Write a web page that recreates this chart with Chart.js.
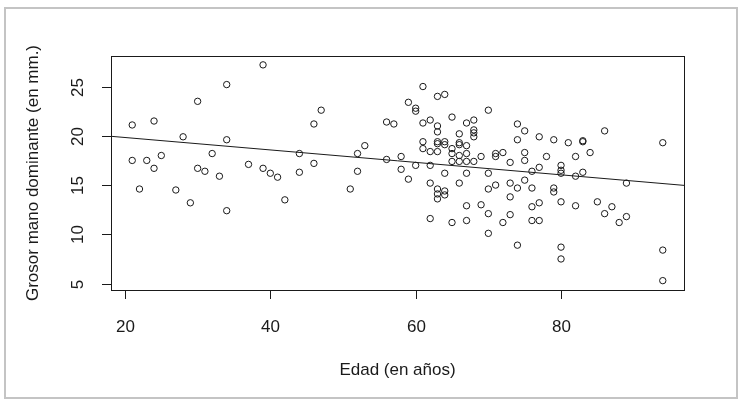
<!DOCTYPE html>
<html>
<head>
<meta charset="utf-8">
<script src="https://cdn.jsdelivr.net/npm/chart.js@4"></script>
<style>
  body { margin: 0; background: #fff; }
  #grafico { display: block; }
</style>
</head>
<body>
<canvas id="grafico" width="743" height="405"></canvas>
<script>
// Edad (en años) de cada persona
const edad = [21,24,30,34,39,28,34,21,23,25,24,32,30,31,33,37,39,40,41,22,
  27,29,34,42,44,44,47,46,46,53,52,52,51,56,57,56,58,58,59,60,
  61,63,64,59,60,60,61,62,63,63,65,67,68,68,68,68,66,61,61,63,
  63,64,64,62,63,65,65,66,66,67,66,67,69,65,66,67,68,62,64,67,
  70,70,62,66,63,64,64,63,63,67,69,70,62,65,67,70,70,71,71,72,
  71,73,73,73,73,72,74,75,74,75,75,74,75,74,76,76,76,76,77,77,
  77,77,78,79,79,79,80,80,80,80,80,80,81,82,82,82,83,83,83,84,
  85,86,86,87,88,89,89,94,94,94];

// Grosor mano dominante (en mm.)
const grosor = [21.1,21.5,23.5,25.2,27.2,19.9,19.6,17.5,17.5,18.0,16.7,18.2,16.7,16.4,15.9,17.1,16.7,16.2,15.8,14.6,
  14.5,13.2,12.4,13.5,18.2,16.3,22.6,21.2,17.2,19.0,18.2,16.4,14.6,21.4,21.2,17.6,17.9,16.6,15.6,17.0,
  25.0,24.0,24.2,23.4,22.8,22.5,21.3,21.6,21.0,20.4,21.9,21.3,21.6,20.6,20.3,19.9,20.2,19.4,18.7,19.4,
  19.2,19.4,19.1,18.4,18.4,18.7,18.2,19.3,19.1,19.0,18.0,18.2,17.9,17.4,17.4,17.4,17.4,17.0,16.2,16.2,
  16.2,14.6,15.2,15.2,14.6,14.4,14.0,14.1,13.6,12.9,13.0,12.1,11.6,11.2,11.4,10.1,22.6,18.2,17.9,18.3,
  15.0,17.3,15.2,13.8,12.0,11.2,21.2,20.5,19.6,18.3,17.5,14.7,15.5,8.9,16.4,14.7,12.8,11.4,19.9,16.8,
  13.2,11.4,17.9,19.6,14.7,14.3,17.0,16.5,16.2,13.3,8.7,7.5,19.3,17.9,15.9,12.9,19.5,19.4,16.3,18.3,
  13.3,20.5,12.1,12.8,11.2,15.2,11.8,19.3,8.4,5.3];

// Recta de regresión (extremos)
const rectaX = [18.08, 96.92];
const rectaY = [19.95, 14.97];

// Marcas de los ejes
const xTicks = [20, 40, 60, 80];
const yTicks = [5, 10, 15, 20, 25];

const fuente = '17px "Liberation Sans", Arial, sans-serif';
const tinta = '#1a1a1a';

// Dibuja el marco, los ejes y los textos al estilo de R
const estiloR = {
    id: 'estiloR',
    beforeDraw(chart) {
        const ctx = chart.ctx;
        ctx.save();
        ctx.fillStyle = '#fff';
        ctx.fillRect(0, 0, chart.width, chart.height);
        ctx.strokeStyle = '#c4c4c4';
        ctx.lineWidth = 2;
        ctx.strokeRect(5, 8, 732, 390);
        ctx.restore();
    },
    afterDraw(chart) {
        const ctx = chart.ctx;
        const a = chart.chartArea;
        const sx = chart.scales.x;
        const sy = chart.scales.y;
        ctx.save();
        ctx.strokeStyle = tinta;
        ctx.fillStyle = tinta;
        ctx.lineWidth = 1;
        ctx.strokeRect(Math.round(a.left) + 0.5, Math.round(a.top) + 0.5,
            Math.round(a.right - a.left), Math.round(a.bottom - a.top));

        ctx.font = fuente;
        ctx.textAlign = 'center';
        ctx.textBaseline = 'middle';

        // eje x
        xTicks.forEach(v => {
            const px = Math.round(sx.getPixelForValue(v)) + 0.5;
            ctx.beginPath();
            ctx.moveTo(px, a.bottom);
            ctx.lineTo(px, a.bottom + 9);
            ctx.stroke();
            ctx.fillText(String(v), px, a.bottom + 37);
        });

        // eje y
        yTicks.forEach(v => {
            const py = Math.round(sy.getPixelForValue(v)) + 0.5;
            ctx.beginPath();
            ctx.moveTo(a.left, py);
            ctx.lineTo(a.left - 9, py);
            ctx.stroke();
            ctx.save();
            ctx.translate(a.left - 33, py);
            ctx.rotate(-Math.PI / 2);
            ctx.fillText(String(v), 0, 0);
            ctx.restore();
        });

        // titulos
        ctx.fillText('Edad (en años)', (a.left + a.right) / 2, a.bottom + 80);
        ctx.save();
        ctx.translate(33, (a.top + a.bottom) / 2);
        ctx.rotate(-Math.PI / 2);
        ctx.fillText('Grosor mano dominante (en mm.)', 0, 0);
        ctx.restore();
        ctx.restore();
    }
};

const puntos = edad.map((e, i) => ({ x: e, y: grosor[i] }));
const recta = rectaX.map((e, i) => ({ x: e, y: rectaY[i] }));

const ctx = document.getElementById('grafico').getContext('2d');
new Chart(ctx, {
    type: 'scatter',
    data: {
        datasets: [{
            label: 'Grosor',
            data: puntos,
            pointStyle: 'circle',
            pointRadius: 3.2,
            pointBorderWidth: 1,
            borderColor: tinta,
            backgroundColor: 'rgba(0,0,0,0)'
        }, {
            label: 'Recta',
            type: 'line',
            data: recta,
            borderColor: tinta,
            borderWidth: 1,
            pointRadius: 0,
            fill: false
        }]
    },
    options: {
        responsive: false,
        animation: false,
        devicePixelRatio: 1,
        layout: { padding: { left: 111, top: 56, right: 59, bottom: 115 } },
        scales: {
            x: { type: 'linear', min: 18.08, max: 96.92, display: false },
            y: { type: 'linear', min: 4.35, max: 28.1, display: false }
        },
        plugins: {
            legend: { display: false },
            tooltip: { enabled: false }
        }
    },
    plugins: [estiloR]
});
</script>
</body>
</html>
